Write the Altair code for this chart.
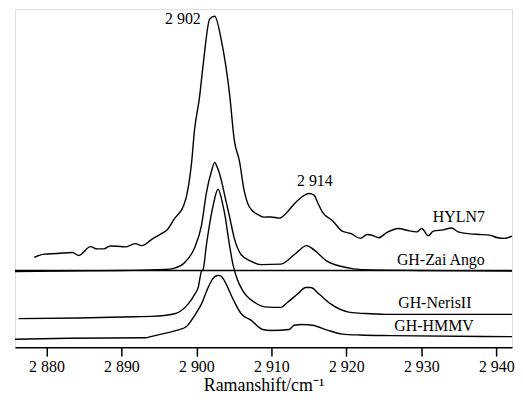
import altair as alt
import pandas as pd

# Raman spectra (wavenumber cm^-1, relative intensity with stacking offset)
hyln7_x = [2878.37, 2879.70, 2881.46, 2883.45, 2884.33, 2885.87, 2886.76, 2887.65, 2888.52, 2889.41,
           2890.51, 2891.84, 2892.72, 2894.05, 2895.37, 2896.04, 2897.10, 2898.29, 2898.69, 2899.35,
           2899.75, 2900.41, 2900.90, 2901.78, 2902.44, 2903.33, 2904.43, 2905.05, 2905.75, 2906.38,
           2906.86, 2907.44, 2908.19, 2909.03, 2909.96, 2911.05, 2911.94, 2913.04, 2913.93, 2915.03,
           2915.69, 2916.18, 2916.81, 2918.13, 2919.46, 2920.56, 2921.88, 2922.77, 2923.64, 2924.31,
           2925.42, 2926.96, 2928.07, 2929.40, 2930.06, 2930.93, 2931.60, 2932.92, 2934.04, 2934.91,
           2936.46, 2937.79, 2939.11, 2940.21, 2941.10, 2942.10]
hyln7_y = [91.3, 94.7, 95.3, 96.3, 93.3, 102.3, 100, 100, 103, 102.7,
           102, 105.3, 103.3, 109.7, 115.7, 119, 131, 144, 154, 187.3,
           221, 254, 287.3, 334, 336.7, 312.3, 257.3, 211, 189, 159,
           146, 139, 135, 132.3, 132.5, 131.3, 136, 145.7, 152, 156.3,
           154.7, 147, 137.3, 129, 118, 115.7, 110.7, 114.7, 113.3, 111.3,
           116.7, 120.7, 119, 117.3, 120.7, 113.3, 118, 119.3, 121.3, 117.3,
           115.3, 114.7, 114, 111.3, 110.7, 113.0]

zai_x = [2875.80, 2882.12, 2890.07, 2895.77, 2897.10, 2898.42, 2899.75, 2900.68, 2901.34, 2902.01,
         2902.44, 2902.73, 2903.06, 2903.99, 2904.39, 2905.05, 2905.98, 2907.31, 2908.63, 2911.28,
         2913.04, 2914.73, 2915.69, 2917.47, 2919.23, 2920.99, 2923.20, 2929.83, 2942.10]
zai_y = [77, 77.5, 78, 79, 80.5, 86, 101, 124, 157.3, 179,
         188, 184, 177.3, 147.3, 134, 111, 94, 87.3, 84, 84.5,
         94, 103.3, 99, 87.3, 82.3, 79.7, 78.5, 78, 77.5]

neris_x = [2876.29, 2884.33, 2891.80, 2894.05, 2897.10, 2898.91, 2899.79, 2900.24, 2900.68, 2900.90,
           2901.34, 2901.78, 2902.23, 2902.89, 2903.55, 2903.86, 2904.21, 2904.88, 2905.45, 2906.20,
           2907.74, 2909.52, 2911.28, 2912.17, 2913.49, 2914.59, 2915.26, 2916.36, 2917.91, 2920.33,
           2923.21, 2925.86, 2942.10]
neris_y = [29, 29.7, 31, 31.3, 34, 44, 54, 60.7, 77.3, 79,
           104, 126, 144, 160.7, 144, 132, 114, 84, 69, 57.3,
           45.7, 40.7, 40.5, 45.7, 54, 60.7, 60.7, 54, 44, 35.7,
           34, 33.3, 33.3]

hmmv_x = [2875.80, 2883.01, 2893.16, 2894.05, 2895.77, 2897.36, 2898.69, 2899.75, 2900.68, 2901.47,
          2902.13, 2902.89, 2903.33, 2903.76, 2904.88, 2905.98, 2907.31, 2908.85, 2909.96, 2912.38,
          2913.04, 2914.15, 2915.48, 2917.47, 2919.46, 2921.88, 2925.86, 2942.10]
hmmv_y = [8, 9, 9.5, 11, 14, 17, 21, 32, 44, 59,
          69, 73, 72, 67.3, 49, 34, 27.3, 18, 17, 18,
          22.3, 23, 22.3, 17.3, 13.3, 12.3, 11.7, 10.7]

baseline_y = [78]

series_names = ["HYLN7", "GH-Zai Ango", "GH-NerisII", "GH-HMMV"]
label_x = [2935.0, 2932.6, 2931.8, 2931.7]
label_y = [132, 89, 45, 21]

peak_text = ["2 902", "2 914"]
peak_x = [2898.2, 2915.8]
peak_y = [334, 169]

tick_values = [2880, 2890, 2900, 2910, 2920, 2930, 2940]

FONT = "Liberation Serif"

rows = []
for name, xs, ys in [("HYLN7", hyln7_x, hyln7_y), ("GH-Zai Ango", zai_x, zai_y),
                     ("GH-NerisII", neris_x, neris_y), ("GH-HMMV", hmmv_x, hmmv_y)]:
    for a, b in zip(xs, ys):
        rows.append({"series": name, "x": a, "y": b})
df = pd.DataFrame(rows)

xscale = alt.Scale(domain=[2875.8, 2942.1], nice=False, zero=False)
yscale = alt.Scale(domain=[0, 344], nice=False, zero=False)

lines = alt.Chart(df).mark_line(color="black", strokeWidth=1.4, interpolate="monotone").encode(
    x=alt.X("x:Q", scale=xscale,
            axis=alt.Axis(values=tick_values, grid=False, title="Ramanshift/cm\u207b\u00b9",
                          labelExpr="slice(toString(datum.value),0,1) + ' ' + slice(toString(datum.value),1)",
                          labelFont=FONT, labelFontSize=16, labelColor="black", labelPadding=3,
                          titleFont=FONT, titleFontSize=18, titleFontWeight="normal", titleColor="black",
                          titlePadding=2, domainColor="black", domainWidth=1.5, tickColor="black",
                          tickWidth=1.5, tickSize=9, labelFlush=False)),
    y=alt.Y("y:Q", scale=yscale, axis=None),
    detail="series:N",
)

base = alt.Chart(pd.DataFrame({"y": baseline_y})).mark_rule(color="black", strokeWidth=1.4).encode(
    y=alt.Y("y:Q", scale=yscale, axis=None)
)

labels = alt.Chart(pd.DataFrame({"t": series_names, "x": label_x, "y": label_y})).mark_text(
    font=FONT, fontSize=16, color="black"
).encode(x=alt.X("x:Q", scale=xscale), y=alt.Y("y:Q", scale=yscale), text="t:N")

peaks = alt.Chart(pd.DataFrame({"t": peak_text, "x": peak_x, "y": peak_y})).mark_text(
    font=FONT, fontSize=16, color="black"
).encode(x=alt.X("x:Q", scale=xscale), y=alt.Y("y:Q", scale=yscale), text="t:N")

chart = alt.layer(lines, base, labels, peaks).properties(
    width=500, height=340, padding={"left": 4, "top": 0, "right": 0, "bottom": 0}
).configure_view(stroke=None).configure(background="white")

chart.save("out.html", embed_options={"renderer": "svg", "actions": False})
